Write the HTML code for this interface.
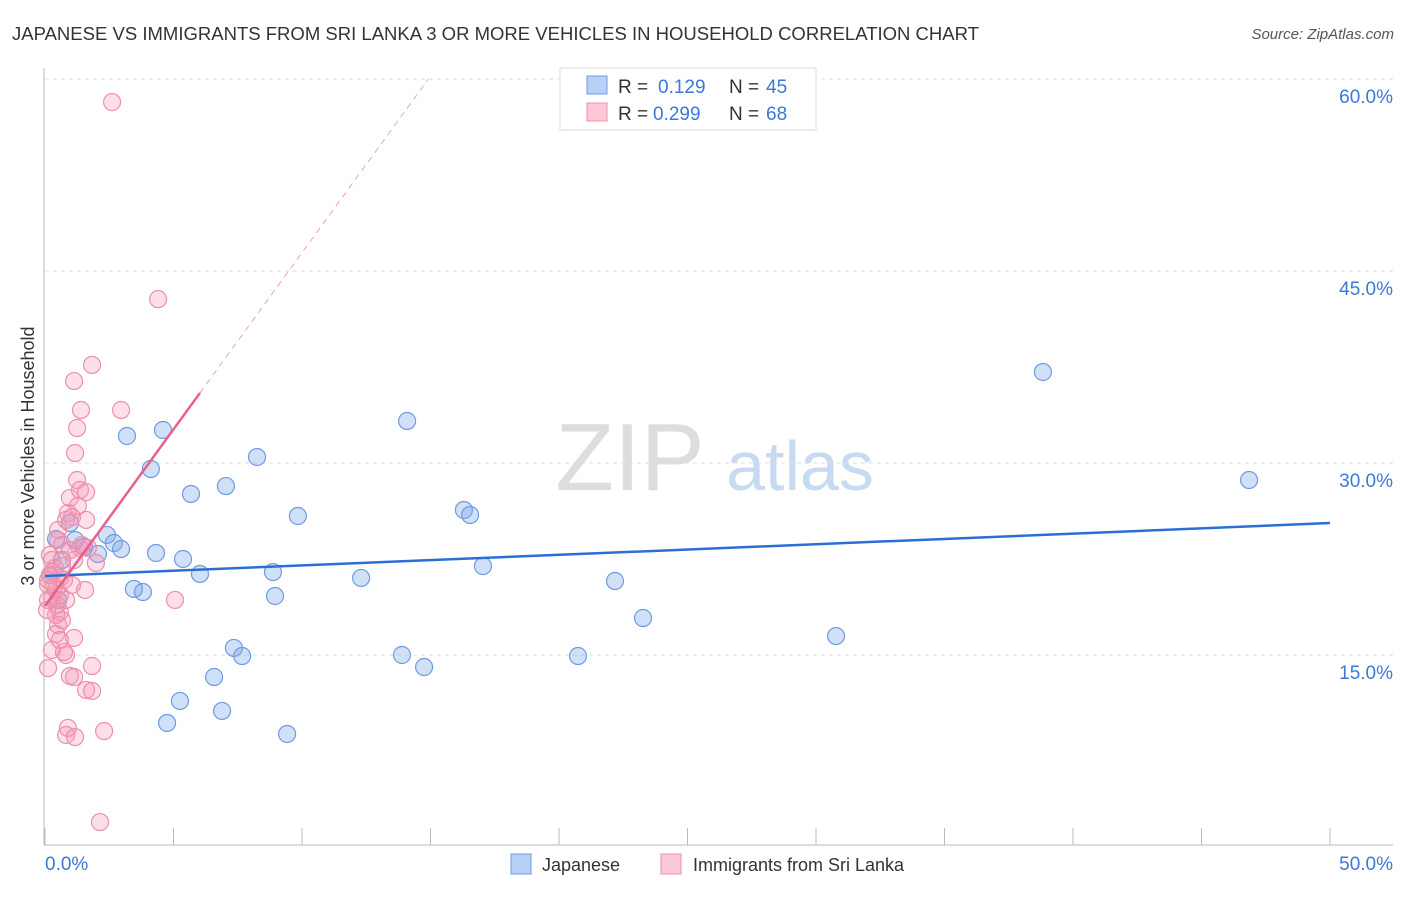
<!DOCTYPE html>
<html><head><meta charset="utf-8"><style>
body{margin:0;background:#fff;font-family:"Liberation Sans",sans-serif}
svg text{font-family:"Liberation Sans",sans-serif}
</style></head><body>
<svg id="c" width="1406" height="892">
<text x="12" y="40" font-size="18" fill="#333" textLength="967" lengthAdjust="spacingAndGlyphs">JAPANESE VS IMMIGRANTS FROM SRI LANKA 3 OR MORE VEHICLES IN HOUSEHOLD CORRELATION CHART</text>
<text x="1394" y="39" font-size="15" fill="#555" font-style="italic" text-anchor="end">Source: ZipAtlas.com</text>
<text x="630" y="490" font-size="96" fill="#ddd" font-family="Liberation Serif" text-anchor="middle">ZIP</text>
<text x="800" y="490" font-size="70" fill="#c8daf2" text-anchor="middle">atlas</text>
<g id="grid"></g>
<g id="axes"></g>
<g id="pts"></g>
<g id="trend"></g>
<text transform="translate(34,456) rotate(-90)" font-size="18" fill="#333" text-anchor="middle">3 or more Vehicles in Household</text>
<text x="45" y="870" font-size="19" fill="#3b78d8">0.0%</text>
<text x="1393" y="870" font-size="19" fill="#3b78d8" text-anchor="end">50.0%</text>
<g>
<rect x="560" y="68" width="256" height="62" fill="#fff" stroke="#ddd"/>
<rect x="587" y="76" width="20" height="18" fill="#b8d0f5" stroke="#6f9be0"/>
<rect x="587" y="103" width="20" height="18" fill="#fbc8d6" stroke="#ec8fab"/>
<text x="618" y="93" font-size="19" fill="#333">R =</text>
<text x="658" y="93" font-size="19" fill="#3b78d8">0.129</text>
<text x="729" y="93" font-size="19" fill="#333">N =</text>
<text x="766" y="93" font-size="19" fill="#3b78d8">45</text>
<text x="618" y="120" font-size="19" fill="#333">R =</text>
<text x="653" y="120" font-size="19" fill="#3b78d8">0.299</text>
<text x="729" y="120" font-size="19" fill="#333">N =</text>
<text x="766" y="120" font-size="19" fill="#3b78d8">68</text>
</g>
<g>
<rect x="511" y="854" width="20" height="20" fill="#b8d0f5" stroke="#6f9be0"/>
<text x="542" y="871" font-size="18" fill="#333">Japanese</text>
<rect x="661" y="854" width="20" height="20" fill="#fbc8d6" stroke="#ec8fab"/>
<text x="693" y="871" font-size="18" fill="#333">Immigrants from Sri Lanka</text>
</g>
</svg>
<script>
const yTicks=[15,30,45,60];
const yTickLabels=["15.0%","30.0%","45.0%","60.0%"];
const xTicks=[0,5,10,15,20,25,30,35,40,45,50];
const japX=[38.83,46.85,14.09,3.19,4.59,4.12,8.25,5.68,7.04,9.84,16.3,16.54,0.97,2.41,2.68,2.96,0.43,1.52,2.06,4.32,5.37,6.03,8.87,12.3,17.04,22.18,3.46,3.81,8.95,23.27,30.78,7.35,7.67,13.89,14.75,20.74,6.58,5.25,6.89,4.75,9.42,0.51,0.66,0.19,1.17];
const japY=[37.11,28.67,33.28,32.11,32.58,29.53,30.47,27.58,28.2,25.86,26.33,25.94,25.31,24.38,23.75,23.28,24.06,23.44,22.89,22.97,22.5,21.33,21.48,21.02,21.95,20.78,20.16,19.92,19.61,17.89,16.48,15.55,14.92,15.0,14.06,14.92,13.28,11.41,10.63,9.69,8.83,19.3,22.42,21.25,23.98];
const sriX=[2.61,4.4,1.83,1.13,1.4,2.96,1.25,1.17,1.25,1.36,1.6,0.97,1.28,0.89,1.05,0.82,0.51,0.66,1.36,1.67,1.98,0.27,0.39,0.19,0.58,0.74,0.12,0.43,0.27,0.47,1.56,0.58,0.66,0.51,0.43,1.13,0.27,0.82,1.83,0.12,0.97,1.13,1.6,1.83,0.89,0.82,1.17,2.3,2.14,5.06,0.35,0.08,0.58,0.74,0.31,0.12,0.66,0.97,1.6,1.13,0.19,0.51,0.82,1.44,0.43,0.12,0.58,1.05];
const sriY=[58.2,42.8,37.66,36.4,34.14,34.14,32.73,30.78,28.67,27.89,27.73,27.27,26.64,26.09,25.78,25.55,23.98,23.59,23.36,23.36,22.19,22.42,21.8,21.25,21.02,20.86,20.47,20.08,19.45,18.91,20.08,18.36,17.73,17.34,16.64,16.33,15.39,15.0,14.14,13.98,13.36,13.28,12.27,12.19,9.3,8.75,8.59,9.06,1.95,19.3,20.39,18.52,16.17,15.23,21.48,19.3,21.95,23.2,25.55,22.42,22.81,24.77,19.3,23.59,18.13,20.86,19.69,20.47];
const blueTrend=[21.17,25.31];
const pinkTrend=[18.83,2.76];
const NS="http://www.w3.org/2000/svg";
const X=v=>45+v*25.7, Y=v=>847-v*12.8;
function mk(t,a,p){const e=document.createElementNS(NS,t);for(const k in a)e.setAttribute(k,a[k]);p.appendChild(e);return e;}
const grid=document.getElementById('grid'),axes=document.getElementById('axes'),pts=document.getElementById('pts'),tr=document.getElementById('trend');
yTicks.forEach((t,i)=>{const l=mk('line',{x1:45,x2:1393,y1:Y(t),y2:Y(t),stroke:'#ddd','stroke-dasharray':'4,4'},grid);


const tx=mk('text',{x:1393,y:Y(t)+24,'font-size':19,fill:'#3b78d8','text-anchor':'end'},grid);tx.textContent=yTickLabels[i];

});
const ya=mk('line',{x1:44,x2:44,y1:68,y2:845,stroke:'#bbb'},axes);


const xa=mk('line',{x1:44,x2:1393,y1:845,y2:845,stroke:'#bbb'},axes);


xTicks.forEach(t=>{const l=mk('line',{x1:X(t),x2:X(t),y1:828,y2:845,stroke:'#bbb'},axes);

});
japX.forEach((x,i)=>{const c=mk('circle',{cx:X(x),cy:Y(japY[i]),r:8.5,fill:'rgba(120,165,230,0.35)',stroke:'#6f9be0','stroke-width':1.2},pts);

});
sriX.forEach((x,i)=>{const c=mk('circle',{cx:X(x),cy:Y(sriY[i]),r:8.5,fill:'rgba(245,150,180,0.3)',stroke:'#ec8fab','stroke-width':1.2},pts);

});
const bl=mk('line',{x1:X(0),y1:Y(blueTrend[0]),x2:X(50),y2:Y(blueTrend[1]),stroke:'#2a6fd6','stroke-width':2.5},tr);


const xe=6.03, xd=(60-pinkTrend[0])/pinkTrend[1];
const pl=mk('line',{x1:X(0),y1:Y(pinkTrend[0]),x2:X(xe),y2:Y(pinkTrend[0]+pinkTrend[1]*xe),stroke:'#e8608a','stroke-width':2.5},tr);


const pd=mk('line',{x1:X(xe),y1:Y(pinkTrend[0]+pinkTrend[1]*xe),x2:X(xd),y2:Y(60),stroke:'#eea0b8','stroke-width':1,'stroke-dasharray':'6,5'},tr);


</script>
</body></html>
